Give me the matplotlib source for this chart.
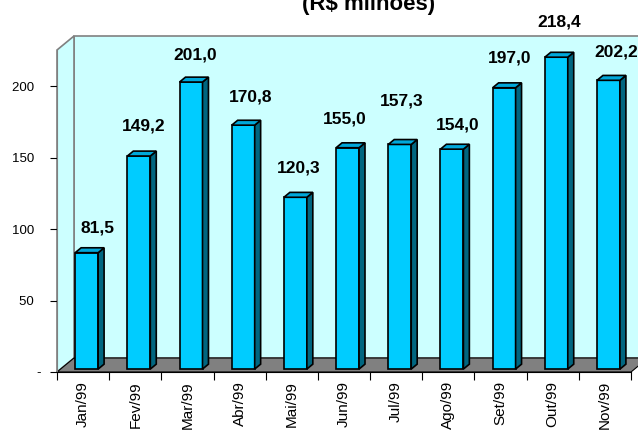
import matplotlib
matplotlib.use("Agg")
import matplotlib.pyplot as plt
from matplotlib.patches import Polygon
from matplotlib.transforms import IdentityTransform
import numpy as np

# data
months = ["Jan/99", "Fev/99", "Mar/99", "Abr/99", "Mai/99", "Jun/99",
          "Jul/99", "Ago/99", "Set/99", "Out/99", "Nov/99"]
values = [81.5, 149.2, 201.0, 170.8, 120.3, 155.0, 157.3, 154.0, 197.0, 218.4, 202.2]
y_ticks = [0, 50, 100, 150, 200]
y_tick_labels = ["-", "50  ", "100  ", "150  ", "200  "]
title = "(R$ milhões)"

# label nudges (pixels) relative to the top of each bar
label_dx = [11, 5, 4, 7, 3, -3, 2, 6, 6, 3, 8]
label_dy = [25, 30, 27, 28, 29, 29, 43, 24, 30, 35, 28]

# 3d look
DX, DY = 17, 14          # depth of the box in pixels
FRONT, BACK = 0.21, 0.56  # bar depth, as fraction of the box depth
BAR_W = 0.44
YMAX = 225.5

plt.rcParams["font.family"] = ["Liberation Sans", "DejaVu Sans"]

fig = plt.figure(figsize=(6.38, 4.34), dpi=100)
ax = fig.add_axes([57 / 638, 62 / 434, 574 / 638, 322 / 434])
n = len(months)
ax.set_xlim(0, n)
ax.set_ylim(0, YMAX)
ax.patch.set_visible(False)
ax.spines["top"].set_visible(False)
ax.spines["right"].set_visible(False)
ax.spines["left"].set_color("#808080")
ax.spines["bottom"].set_color("black")


def P(x, y, f):
    px, py = ax.transData.transform((x, y))
    return (px + f * DX, py + f * DY)


def face(pts, color, **kw):
    ax.add_patch(Polygon(pts, closed=True, facecolor=color,
                         transform=IdentityTransform(), clip_on=False, **kw))


# walls and floor
face([P(0, 0, 1), P(n, 0, 1), P(n, YMAX, 1), P(0, YMAX, 1)], "#CCFFFF",
     edgecolor="#808080", lw=1.2)
face([P(0, 0, 0), P(0, 0, 1), P(0, YMAX, 1), P(0, YMAX, 0)], "#CCFFFF",
     edgecolor="#808080", lw=1.2)
face([P(0, 0, 0), P(n, 0, 0), P(n, 0, 1), P(0, 0, 1)], "#808080",
     edgecolor="black", lw=0.8)

# bars
for i, v in enumerate(values):
    x0 = i + 0.5 - BAR_W / 2
    x1 = i + 0.5 + BAR_W / 2
    face([P(x0, 0, FRONT), P(x1, 0, FRONT), P(x1, v, FRONT), P(x0, v, FRONT)],
         "#00CCFF", edgecolor="black", lw=1.2)
    face([P(x1, 0, FRONT), P(x1, 0, BACK), P(x1, v, BACK), P(x1, v, FRONT)],
         "#006680", edgecolor="black", lw=1.2)
    face([P(x0, v, FRONT), P(x1, v, FRONT), P(x1, v, BACK), P(x0, v, BACK)],
         "#00A8DA", edgecolor="black", lw=1.2)
    ax.annotate(f"{v:.1f}".replace(".", ","), xy=(i + 0.5, v),
                xytext=(FRONT * DX + label_dx[i], FRONT * DY + label_dy[i]),
                textcoords="offset pixels", ha="center", va="center",
                fontsize=12.5, fontweight="bold", annotation_clip=False)

# axes ticks
ax.set_yticks(y_ticks, y_tick_labels)
ax.tick_params(axis="y", direction="out", length=5, pad=6.5, labelsize=9.5,
               color="black")
ax.set_xticks(range(n + 1), [""] * (n + 1))
ax.tick_params(axis="x", which="major", direction="out", length=6, color="black")
ax.set_xticks(np.arange(n) + 0.5, months, minor=True)
ax.tick_params(axis="x", which="minor", length=0, pad=6.5, labelsize=11,
               labelrotation=90)

fig.text(369 / 638, (434 - 10) / 434, title, ha="center", va="baseline",
         fontsize=16, fontweight="bold")

fig.savefig("out.png", dpi=100)
